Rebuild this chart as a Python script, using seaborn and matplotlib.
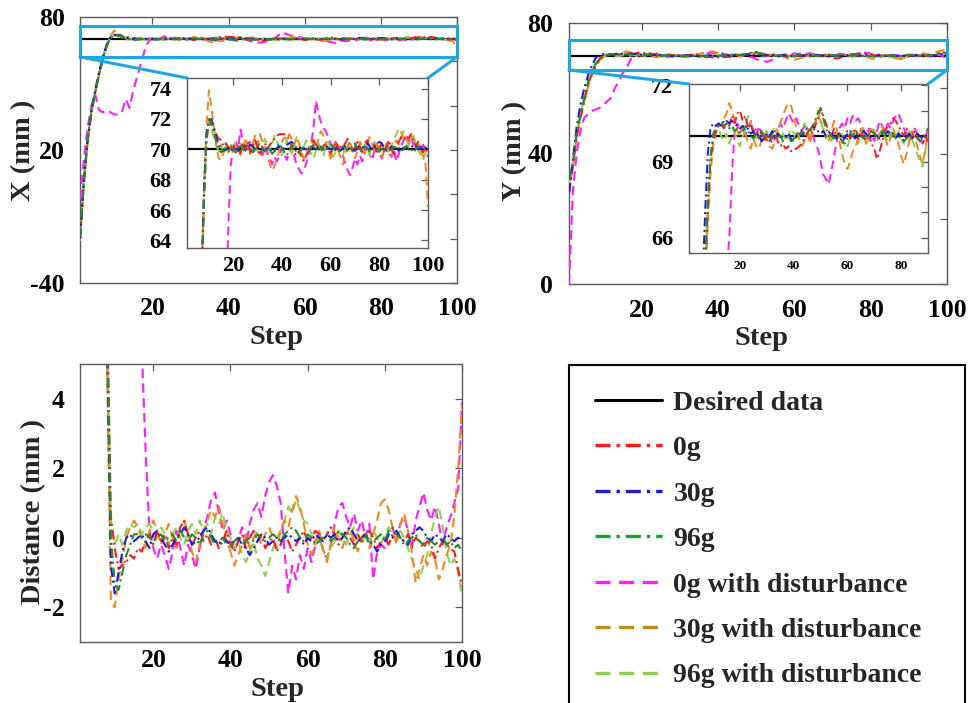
import numpy as np
import matplotlib
matplotlib.use("Agg")
import matplotlib.pyplot as plt
from matplotlib.patches import Rectangle, ConnectionPatch
from matplotlib.lines import Line2D
import seaborn as sns

# ---------------------------------------------------------------- data
steps = np.arange(1, 101)
desired = 70.0

series_names = ["0g", "30g", "96g", "0g with disturbance",
                "30g with disturbance", "96g with disturbance"]

# X position (mm)
x_0g = [-20, 5, 24, 37, 46, 54, 61, 66.5, 70.5, 72.0,
        71.6, 71.2, 71.0, 70.7, 70.6, 70.2, 70.4, 70.1, 69.9, 70.3,
        69.8, 70.2, 69.7, 70.4, 70.0, 70.5, 69.8, 70.3, 70.6, 70.1,
        69.6, 70.2, 70.4, 70.0, 70.3, 70.5, 70.7, 70.9, 71.0, 71.0,
        71.0, 70.9, 70.6, 70.2, 69.8, 69.6, 69.9, 69.5, 69.2, 69.6,
        69.9, 70.2, 70.6, 70.3, 70.1, 69.8, 70.2, 70.4, 70.0, 69.7,
        70.1, 70.5, 70.2, 69.8, 70.1, 70.4, 70.7, 70.3, 69.9, 70.1,
        70.5, 70.2, 69.8, 70.4, 70.6, 70.2, 70.0, 70.3, 69.7, 70.1,
        70.4, 69.8, 70.2, 70.6, 70.0, 69.7, 70.3, 70.5, 70.8, 70.6,
        70.9, 70.7, 71.0, 70.6, 70.2, 70.5, 70.1, 69.8, 70.2, 69.5]
x_30g = [-20, 6, 25, 38, 47, 55, 62, 67.5, 71.0, 71.8,
         72.0, 71.5, 70.8, 70.3, 70.0, 69.9, 70.0, 70.1, 69.9, 70.0,
         70.1, 69.9, 70.2, 70.3, 70.2, 70.1, 70.3, 70.2, 70.0, 70.1,
         70.2, 70.0, 69.9, 70.1, 70.0, 69.8, 69.9, 70.1, 70.2, 70.0,
         70.1, 70.3, 70.4, 70.5, 70.3, 70.1, 70.2, 70.0, 70.1, 69.9,
         70.0, 70.2, 70.1, 70.0, 70.2, 70.1, 70.0, 70.2, 70.1, 70.0,
         70.1, 70.2, 70.0, 69.9, 70.1, 70.2, 70.0, 70.1, 70.0, 69.9,
         70.1, 70.2, 70.1, 70.3, 70.4, 70.2, 70.0, 70.1, 70.3, 70.5,
         70.4, 70.1, 69.9, 70.0, 70.2, 70.0, 70.1, 69.9, 70.0, 70.1,
         70.2, 70.0, 70.1, 70.3, 70.2, 70.0, 70.1, 70.2, 70.1, 70.0]
x_96g = [-19, 6, 25, 37, 46, 54, 61, 67, 70.5, 72.0,
         71.8, 71.2, 70.5, 70.0, 69.8, 70.0, 70.1, 69.9, 70.2, 70.0,
         69.8, 70.1, 70.3, 70.0, 69.9, 70.2, 70.1, 69.8, 70.0, 70.2,
         70.4, 70.1, 69.9, 70.2, 70.0, 69.7, 69.9, 70.2, 70.4, 70.1,
         69.8, 69.6, 69.9, 70.3, 70.1, 69.8, 69.7, 70.0, 70.2, 70.0,
         69.8, 70.1, 70.3, 70.1, 69.9, 70.2, 70.0, 69.9, 70.1, 70.3,
         70.2, 69.9, 69.8, 70.0, 70.2, 70.1, 69.9, 70.0, 70.2, 70.4,
         70.1, 69.8, 70.0, 70.2, 70.1, 69.9, 70.0, 70.2, 70.1, 69.9,
         70.0, 70.2, 70.1, 69.9, 70.0, 70.2, 70.0, 70.1, 69.9, 70.0,
         70.2, 70.1, 70.0, 69.8, 70.0, 70.2, 70.1, 70.0, 70.1, 70.2]
x_0g_dist = [-2, 15, 30, 40, 45, 38, 37, 38, 37, 36,
             36, 37, 43, 39, 47, 53, 59, 65, 69, 70.2,
             70.6, 70.0, 71.3, 70.5, 70.2, 69.8, 70.6, 70.1, 69.7, 70.3,
             70.0, 69.6, 70.2, 69.8, 69.4, 69.0, 69.5, 69.2, 69.6, 70.1,
             69.7, 69.3, 69.8, 70.2, 69.6, 69.0, 68.7, 68.4, 68.6, 69.1,
             69.7, 70.3, 71.5, 73.2, 72.4, 71.8, 71.4, 71.2, 70.8, 70.4,
             70.1, 70.5, 69.8, 70.2, 69.6, 69.1, 68.6, 68.3, 68.8, 69.4,
             69.0, 69.6, 69.2, 69.8, 70.3, 69.7, 69.3, 69.9, 70.4, 69.8,
             69.4, 69.9, 70.3, 69.7, 69.5, 70.0, 69.2, 69.7, 70.2, 70.6,
             70.9, 70.4, 70.8, 70.3, 70.6, 70.1, 69.8, 70.3, 70.0, 69.7]
x_30g_dist = [-21, 4, 23, 37, 46, 54, 61, 67, 71.5, 73.9,
              72.8, 71.5, 70.4, 69.4, 69.3, 69.8, 70.0, 69.7, 70.2, 69.8,
              70.4, 69.9, 70.5, 70.0, 70.6, 70.2, 69.7, 70.4, 70.9, 70.3,
              71.0, 70.5, 70.0, 69.6, 69.0, 68.6, 68.9, 69.4, 70.0, 70.5,
              70.8, 70.6, 71.0, 70.7, 70.2, 70.8, 70.4, 69.8, 69.3, 69.6,
              70.2, 70.6, 70.3, 70.0, 70.7, 71.2, 70.9, 70.5, 69.8, 69.4,
              69.9, 70.4, 70.0, 69.5, 69.0, 69.6, 70.2, 70.5, 69.9, 69.4,
              69.9, 70.5, 70.2, 69.7, 70.3, 70.8, 70.4, 69.9, 70.3, 70.0,
              69.5, 69.9, 70.4, 70.1, 69.6, 70.2, 70.6, 70.3, 70.8, 71.2,
              70.7, 70.4, 70.9, 70.5, 70.1, 70.4, 69.9, 69.6, 69.0, 66.2]
x_96g_dist = [-19, 6, 25, 38, 47, 55, 62, 67.5, 71.0, 71.9,
              71.4, 70.8, 70.2, 69.9, 70.3, 69.8, 70.2, 69.7, 70.3, 69.9,
              70.5, 70.0, 69.6, 70.2, 70.7, 70.3, 69.8, 70.1, 70.5, 69.9,
              69.5, 70.2, 70.7, 70.3, 69.8, 70.4, 70.9, 70.5, 70.0, 69.6,
              70.1, 70.6, 70.2, 69.7, 70.3, 70.8, 70.4, 69.9, 70.2, 70.6,
              70.1, 69.7, 69.4, 69.9, 70.4, 70.0, 69.6, 70.2, 70.5, 70.0,
              69.5, 69.8, 70.3, 69.9, 69.6, 70.1, 70.4, 70.0, 69.7, 70.2,
              70.6, 70.1, 69.8, 70.3, 70.0, 69.6, 70.1, 70.5, 70.2, 69.8,
              70.0, 70.4, 70.1, 69.7, 70.2, 70.6, 71.0, 71.4, 71.1, 70.8,
              70.5, 70.2, 70.6, 70.9, 70.4, 70.0, 69.6, 69.3, 69.8, 70.3]

# Y position (mm)
y_0g = [28, 36, 45, 51, 56, 61, 64.5, 67, 69, 69.8,
        70.2, 70.4, 70.5, 70.3, 70.6, 70.4, 70.8, 70.5, 70.9, 71.0,
        70.6, 70.8, 70.3, 70.5, 70.1, 70.3, 69.9, 70.2, 70.0, 69.8,
        70.1, 69.9, 70.2, 69.8, 69.6, 69.7, 69.5, 69.6, 69.4, 69.5,
        69.5, 69.6, 69.7, 69.9, 70.1, 70.3, 70.1, 70.4, 70.7, 71.1,
        70.8, 70.5, 70.2, 70.0, 70.3, 69.9, 70.1, 69.7, 70.0, 70.2,
        69.9, 70.1, 70.3, 69.9, 70.2, 70.0, 69.8, 70.1, 69.7, 69.5,
        69.1, 69.4, 69.8, 70.2, 70.4, 70.5, 70.7, 70.6, 70.4, 70.2,
        70.0, 70.3, 70.1, 69.9, 70.2, 70.0, 69.8, 69.7, 70.0, 69.8,
        70.1, 70.3, 70.0, 69.7, 70.1, 69.9, 70.3, 70.6, 71.2, 70.3]
y_30g = [28, 38, 48, 55, 60, 64, 67, 69.3, 70.3, 70.5,
         70.4, 70.5, 70.4, 70.6, 70.6, 70.5, 70.6, 70.5, 70.4, 70.3,
         70.4, 70.2, 70.3, 70.1, 70.2, 70.0, 70.1, 69.8, 69.9, 70.1,
         70.0, 70.2, 69.9, 70.1, 70.0, 69.9, 70.0, 70.1, 69.9, 69.8,
         70.0, 70.1, 70.0, 70.2, 70.3, 70.2, 70.4, 70.3, 70.2, 70.1,
         70.2, 70.0, 70.1, 70.2, 70.0, 69.9, 70.1, 70.0, 69.9, 70.1,
         70.2, 70.0, 69.9, 70.1, 70.0, 70.2, 70.1, 69.9, 70.0, 70.1,
         70.0, 69.9, 70.1, 70.0, 70.2, 70.1, 70.0, 69.9, 70.1, 70.0,
         69.8, 70.0, 70.1, 69.9, 70.0, 70.1, 70.0, 69.9, 70.0, 70.1,
         70.0, 70.1, 70.0, 70.2, 70.1, 70.0, 70.1, 70.3, 70.6, 70.2]
y_96g = [32, 37, 46, 52, 57, 62, 65, 67.5, 69.2, 70.1,
         70.3, 70.4, 70.5, 70.4, 70.5, 70.3, 70.4, 70.2, 70.3, 70.1,
         70.2, 70.4, 70.2, 70.0, 69.9, 70.1, 70.0, 70.2, 69.9, 70.0,
         69.8, 70.0, 70.1, 69.9, 70.0, 69.8, 69.9, 70.0, 69.8, 69.9,
         70.1, 70.0, 70.2, 70.1, 70.3, 70.2, 70.4, 70.6, 70.9, 71.1,
         70.7, 70.3, 70.1, 70.0, 69.9, 70.1, 70.0, 69.8, 69.7, 69.9,
         70.1, 70.0, 70.2, 70.1, 70.0, 69.9, 70.1, 70.0, 70.2, 70.1,
         69.9, 70.0, 70.2, 70.1, 70.0, 70.2, 70.1, 69.9, 70.0, 69.9,
         69.8, 69.9, 70.0, 70.1, 70.0, 69.9, 69.8, 69.9, 70.1, 70.3,
         70.2, 70.1, 70.0, 69.8, 70.0, 70.2, 70.4, 70.7, 71.0, 70.5]
y_0g_dist = [0, 28, 40, 47, 51, 52, 53, 53.5, 54, 55,
             56, 57, 60, 62, 64.5, 66, 68.5, 70.2, 70.5, 70.1,
             70.4, 70.0, 70.3, 70.6, 70.2, 69.9, 70.4, 70.1, 69.8, 70.2,
             70.0, 69.7, 69.9, 70.2, 70.5, 70.3, 70.6, 70.9, 70.7, 70.5,
             70.7, 70.4, 70.2, 70.4, 70.2, 69.9, 70.1, 69.7, 69.5, 69.0,
             68.5, 68.3, 68.1, 68.6, 69.2, 69.8, 70.3, 70.5, 70.3, 70.7,
             70.5, 70.8, 70.6, 70.7, 70.5, 70.2, 70.0, 70.3, 70.1, 69.8,
             70.2, 70.6, 70.4, 70.2, 70.5, 70.3, 70.6, 70.8, 70.9, 70.6,
             70.3, 70.1, 69.8, 70.0, 70.3, 70.1, 69.9, 69.7, 70.0, 70.2,
             70.0, 69.8, 70.0, 70.2, 69.9, 69.7, 70.0, 70.2, 69.9, 68.2]
y_30g_dist = [28, 36, 45, 51, 56, 60.5, 64, 66.5, 68.5, 69.6,
              70.2, 70.5, 70.4, 70.7, 70.9, 71.3, 71.0, 70.6, 70.2, 70.0,
              70.4, 70.1, 69.7, 69.5, 69.9, 69.6, 69.5, 69.8, 70.1, 69.9,
              69.6, 69.5, 69.8, 70.2, 70.5, 70.8, 71.1, 71.3, 71.2, 70.8,
              70.3, 69.9, 69.6, 69.8, 70.1, 69.7, 70.2, 70.5, 70.8, 70.6,
              70.3, 70.0, 69.8, 70.2, 70.6, 70.3, 69.8, 69.3, 68.9, 68.7,
              69.0, 69.4, 69.6, 69.9, 70.3, 70.1, 69.7, 70.0, 70.4, 70.2,
              69.8, 70.1, 70.4, 70.0, 69.6, 69.9, 70.3, 70.0, 69.7, 69.2,
              68.9, 69.3, 69.8, 70.2, 70.0, 69.6, 69.2, 68.9, 69.5, 70.1,
              70.3, 70.0, 70.4, 70.7, 70.3, 70.6, 71.0, 71.4, 71.7, 71.2]
y_96g_dist = [30, 37, 46, 52, 57, 61.5, 65, 67.5, 69.0, 69.7,
              70.1, 70.3, 70.0, 69.8, 70.1, 69.7, 70.0, 70.2, 69.8, 69.6,
              70.0, 70.3, 70.8, 70.5, 70.2, 69.9, 70.1, 69.8, 70.0, 70.2,
              69.9, 70.1, 70.4, 70.2, 69.9, 70.1, 69.8, 70.0, 70.3, 70.1,
              69.8, 70.0, 70.2, 70.5, 70.3, 70.0, 70.2, 70.6, 71.0, 70.7,
              70.2, 69.9, 70.1, 69.8, 70.0, 70.2, 69.9, 70.1, 69.8, 69.6,
              69.9, 70.2, 70.0, 69.7, 70.0, 70.3, 70.1, 69.8, 70.0, 70.2,
              69.9, 70.1, 70.3, 70.0, 69.8, 70.1, 69.9, 70.0, 70.2, 69.9,
              69.7, 70.0, 70.2, 69.9, 69.6, 69.3, 69.0, 68.8, 69.4, 70.0,
              70.2, 69.9, 70.1, 70.4, 70.2, 70.0, 70.3, 70.6, 70.9, 70.4]

# Distance error (mm)
d_0g = [93, 70, 50, 38, 28, 19, 11, 7, 0.6, -0.3,
        -0.9, -0.8, -0.7, -0.5, -0.6, -0.3, -0.4, -0.1, 0.1, -0.2,
        0.2, -0.1, 0.1, -0.3, 0.0, -0.2, 0.3, 0.5, 0.1, -0.2,
        0.0, 0.2, -0.1, 0.1, -0.2, 0.0, -0.3, -0.1, 0.2, -0.2,
        -0.4, -0.1, 0.1, -0.3, 0.0, 0.2, -0.1, 0.1, -0.3, -0.1,
        0.0, -0.4, -0.2, 0.1, -0.1, -0.4, -0.2, 0.0, 0.2, -0.1,
        0.0, 0.2, 0.1, -0.1, 0.1, 0.3, 0.1, -0.2, 0.0, 0.2,
        0.0, -0.2, 0.1, -0.1, 0.0, 0.2, 0.0, -0.3, -0.1, 0.0,
        -0.2, 0.1, 0.2, 0.0, -0.1, 0.1, -0.2, 0.0, -0.1, -0.3,
        -0.1, -0.2, -0.6, -0.3, -0.1, -0.2, -0.3, -0.4, -0.9, -1.4]
d_30g = [92, 68, 47, 34, 24, 15, 8, 5.5, -0.8, -1.6,
         -1.0, -0.4, 0.0, 0.1, -0.1, 0.0, 0.1, -0.1, -0.3, 0.1,
         0.2, 0.0, -0.2, -0.4, -0.2, 0.0, 0.1, 0.3, 0.1, -0.2,
         -0.1, 0.0, 0.2, 0.3, 0.1, -0.1, -0.2, 0.0, -0.1, -0.2,
         -0.1, 0.0, -0.2, -0.3, -0.5, -0.3, -0.1, 0.1, 0.0, -0.2,
         -0.1, 0.0, -0.1, 0.0, 0.1, 0.0, -0.1, 0.0, -0.2, 0.0,
         -0.1, 0.1, 0.0, -0.1, 0.1, 0.0, 0.1, -0.1, 0.0, 0.2,
         0.3, 0.1, -0.1, 0.0, 0.1, -0.1, -0.2, -0.4, -0.2, -0.1,
         0.1, 0.0, 0.2, 0.0, -0.1, -0.2, 0.1, 0.2, 0.3, 0.2,
         0.0, -0.1, 0.1, 0.0, -0.1, 0.1, 0.0, -0.1, 0.0, -0.1]
d_96g = [92, 69, 48, 36, 26, 17, 9, 6, 0.0, -1.3,
         -1.5, -1.0, -0.5, -0.2, 0.1, 0.1, 0.0, 0.1, 0.0, -0.1,
         0.0, 0.1, -0.1, 0.0, 0.1, -0.1, 0.2, 0.0, -0.1, 0.1,
         0.0, -0.2, 0.1, 0.2, 0.0, -0.2, -0.1, 0.0, -0.2, -0.3,
         -0.1, 0.0, -0.2, -0.1, 0.0, -0.1, 0.1, 0.0, -0.1, 0.0,
         0.1, 0.0, -0.1, 0.1, 0.2, 0.3, 0.2, 0.0, -0.1, 0.1,
         0.0, -0.2, -0.1, 0.0, 0.1, -0.1, 0.0, 0.2, 0.1, 0.0,
         -0.2, -0.3, -0.1, 0.0, 0.1, -0.2, -0.1, 0.0, 0.1, -0.1,
         0.2, 0.3, 0.1, 0.0, -0.2, -0.1, 0.0, 0.1, -0.1, -0.2,
         0.0, -0.1, -0.2, -0.1, 0.0, -0.2, -0.1, -0.3, -0.2, -0.4]
d_0g_dist = [98, 75, 55, 42, 34, 33, 32, 31, 30, 29,
             27, 24, 20, 16, 12, 8, 5.5, 2.5, 0.2, -0.3,
             -0.6, -0.2, -0.5, -0.9, -0.4, 0.2, -0.3, -0.8, -0.2, -0.5,
             -0.9, -0.3, 0.2, 0.6, 1.1, 1.3, 0.7, 0.2, 0.5, 0.1,
             -0.4, -0.1, 0.3, -0.2, 0.4, 0.8, 1.0, 0.6, 1.2, 1.6,
             1.8, 1.5, 1.0, -0.4, -1.6, -0.8, -1.2, -0.5, -0.9, -0.3,
             -0.7, -0.2, 0.1, -0.4, -0.6, -0.2, 0.4, 0.9, 1.0, 0.6,
             0.3, 0.7, 0.2, 0.5, 0.0, 0.4, -1.2, -0.4, -0.2, -0.3,
             0.1, 0.3, -0.1, 0.4, 0.6, 0.2, -0.3, 0.5, 0.9, 1.3,
             0.8, 0.5, 0.9, 0.4, -0.2, 0.3, 0.6, 1.0, 1.4, 3.9]
d_30g_dist = [94, 71, 51, 39, 29, 20, 12, 5, -1.8, -2.0,
              -1.2, -0.6, 0.0, 0.3, 0.5, 0.3, 0.0, -0.3, 0.2, 0.5,
              0.2, -0.2, 0.1, 0.4, 0.0, -0.3, 0.3, 0.5, 0.1, -0.4,
              -0.7, -0.2, 0.2, 0.5, 0.8, 0.6, 0.9, 0.4, -0.1, -0.4,
              -0.8, -0.5, -0.2, 0.1, -0.3, 0.0, 0.2, -0.2, 0.1, 0.3,
              0.0, -0.3, 0.2, 0.5, 0.3, 0.8, 1.2, 0.9, 0.4, -0.2,
              -0.5, -0.1, 0.2, -0.3, -0.7, -0.2, 0.3, 0.0, -0.3, 0.1,
              0.3, -0.1, -0.4, 0.0, 0.2, -0.3, 0.1, 0.5, 1.0, 1.1,
              0.8, 0.3, -0.2, 0.4, 0.7, 0.2, -0.4, -1.3, -0.9, -0.5,
              -0.8, -0.4, -0.6, -1.2, -0.9, -0.5, -0.2, 0.6, 2.0, 3.8]
d_96g_dist = [93, 69, 48, 35, 25, 16, 8, 6, 0.5, -0.2,
              0.1, -0.2, 0.2, 0.4, 0.3, 0.4, 0.1, 0.3, 0.4, 0.2,
              0.0, 0.3, 0.1, -0.2, 0.1, 0.3, 0.0, -0.2, 0.2, 0.4,
              0.1, 0.5, 0.2, 0.4, 0.1, 0.6, 0.4, 0.7, 0.2, 0.0,
              -0.3, -0.1, -0.5, -0.7, -0.4, -0.1, -0.6, -0.8, -1.1, -0.7,
              -0.3, 0.0, 0.2, 0.5, 0.9, 0.7, 1.1, 0.8, 0.5, 0.4,
              0.1, -0.2, 0.0, -0.4, -0.6, -0.3, -0.1, 0.2, 0.0, -0.2,
              0.1, 0.3, 0.0, -0.2, 0.1, -0.1, 0.2, 0.0, -0.2, 0.1,
              0.3, 0.1, -0.1, 0.2, 0.0, -0.3, -0.6, -0.9, -1.2, -0.8,
              -0.5, 0.1, 0.6, 0.9, 0.3, -0.4, -0.8, -0.6, -1.0, -1.7]

x_series = [x_0g, x_30g, x_96g, x_0g_dist, x_30g_dist, x_96g_dist]
y_series = [y_0g, y_30g, y_96g, y_0g_dist, y_30g_dist, y_96g_dist]
d_series = [d_0g, d_30g, d_96g, d_0g_dist, d_30g_dist, d_96g_dist]

# ---------------------------------------------------------------- style
line_colors = ["#ff1a1a", "#1a1ae6", "#1e8f2a", "#ff1aff", "#f5871f", "#8fd14f"]
legend_colors = ["#ff1a1a", "#1a1ad9", "#14a03c", "#ff1aff", "#bf8a1a", "#8fd14f"]
DASHDOT = (0, (4.5, 1.8, 1, 1.8))
DASHED = (0, (4.5, 2.6))
line_styles = [DASHDOT, DASHDOT, DASHDOT, DASHED, DASHED, DASHED]
draw_order = [3, 5, 4, 0, 1, 2]
FRAME = "#5a5a5a"
ZOOM_BLUE = "#1ea6e0"

sns.set_theme(style="white")
plt.rcParams["font.family"] = ["Liberation Serif", "DejaVu Serif"]
plt.rcParams["font.weight"] = "bold"
plt.rcParams["axes.unicode_minus"] = False

FIG_W, FIG_H = 976, 703
fig = plt.figure(figsize=(FIG_W / 100, FIG_H / 100), dpi=100)
fig.patch.set_facecolor("white")


def box(l, t, r, b):
    return [l / FIG_W, 1 - b / FIG_H, (r - l) / FIG_W, (b - t) / FIG_H]


def style_axes(ax, ysize, xsize, ypad, xpad):
    for s in ax.spines.values():
        s.set_color(FRAME)
        s.set_linewidth(1.0)
        s.set_visible(True)
    ax.tick_params(axis="both", direction="in", top=True, right=True,
                   length=5, width=0.9, color=FRAME, labelcolor="black")
    ax.tick_params(axis="y", labelsize=ysize, pad=ypad)
    ax.tick_params(axis="x", labelsize=xsize, pad=xpad)
    for lab in ax.get_xticklabels() + ax.get_yticklabels():
        lab.set_fontweight("bold")
    ax.set_facecolor("white")
    ax.grid(False)


def draw_lines(ax, series, with_desired=True, lw=1.5):
    if with_desired:
        sns.lineplot(x=steps, y=np.full(len(steps), desired), ax=ax,
                     color="black", lw=1.6, estimator=None, errorbar=None,
                     sort=False, legend=False, zorder=2)
    for k in draw_order:
        sns.lineplot(x=steps, y=np.asarray(series[k], dtype=float), ax=ax,
                     color=line_colors[k], lw=lw, ls=line_styles[k],
                     estimator=None, errorbar=None, sort=False,
                     legend=False, zorder=3)
    ax.set_xlabel("")
    ax.set_ylabel("")


LABEL_FONT = dict(fontsize=20.5, fontweight="bold")
TICK = 18.5

# ---------------------------------------------------------------- X panel
ax_x = fig.add_axes(box(80, 17, 457, 283))
draw_lines(ax_x, x_series)
ax_x.set_xlim(1, 100)
ax_x.set_ylim(-40, 80)
ax_x.set_xticks([20, 40, 60, 80, 100])
ax_x.set_xticklabels(["20", "40", "60", "80", "100"])
ax_x.set_yticks([-40, -20, 0, 20, 40, 60, 80])
ax_x.set_yticklabels(["-40", "", "", "20", "", "", "80"])
style_axes(ax_x, TICK, TICK, 11, 10)
ax_x.set_ylabel("X (mm )", **LABEL_FONT)
ax_x.yaxis.set_label_coords(-0.117, 0.5)
ax_x.set_xlabel("Step", **LABEL_FONT)
ax_x.xaxis.set_label_coords(0.52, -0.157)
ax_x.add_patch(Rectangle((1, 62), 99, 14, fill=False, edgecolor=ZOOM_BLUE,
                         lw=2.2, clip_on=False, zorder=6))

ax_xi = fig.add_axes(box(187, 78, 428, 248))
draw_lines(ax_xi, x_series, lw=1.4)
ax_xi.set_xlim(1, 100)
ax_xi.set_ylim(63.5, 74.7)
ax_xi.set_xticks([20, 40, 60, 80, 100])
ax_xi.set_xticklabels(["20", "40", "60", "80", "100"])
ax_xi.set_yticks([64, 66, 68, 70, 72, 74])
ax_xi.set_yticklabels(["64", "66", "68", "70", "72", "74"])
style_axes(ax_xi, 16, 16, 11, 6)

for xa, xb in [(1, 0), (100, 1)]:
    fig.add_artist(ConnectionPatch(xyA=(xa, 62), coordsA=ax_x.transData,
                                   xyB=(xb, 1), coordsB=ax_xi.transAxes,
                                   color=ZOOM_BLUE, lw=2.2, zorder=7))

# ---------------------------------------------------------------- Y panel
ax_y = fig.add_axes(box(569, 23, 947, 284))
draw_lines(ax_y, y_series)
ax_y.set_xlim(1, 100)
ax_y.set_ylim(0, 80)
ax_y.set_xticks([20, 40, 60, 80, 100])
ax_y.set_xticklabels(["20", "40", "60", "80", "100"])
ax_y.set_yticks([0, 20, 40, 60, 80])
ax_y.set_yticklabels(["0", "", "40", "", "80"])
style_axes(ax_y, TICK, TICK, 11.5, 10.5)
ax_y.set_ylabel("Y (mm )", **LABEL_FONT)
ax_y.yaxis.set_label_coords(-0.111, 0.51)
ax_y.set_xlabel("Step", **LABEL_FONT)
ax_y.xaxis.set_label_coords(0.508, -0.162)
ax_y.add_patch(Rectangle((1, 65.6), 99, 9.2, fill=False, edgecolor=ZOOM_BLUE,
                         lw=2.2, clip_on=False, zorder=6))

ax_yi = fig.add_axes(box(689, 84, 928, 253))
draw_lines(ax_yi, y_series, lw=1.4)
ax_yi.set_xlim(1, 90)
ax_yi.set_ylim(65.4, 72.05)
ax_yi.set_xticks([20, 40, 60, 80])
ax_yi.set_xticklabels(["20", "40", "60", "80"])
ax_yi.set_yticks([66, 67, 68, 69, 70, 71, 72])
ax_yi.set_yticklabels(["66", "", "", "69", "", "", "72"])
style_axes(ax_yi, 16, 9.5, 11.5, 5)

for xa, xb in [(1, 0), (100, 1)]:
    fig.add_artist(ConnectionPatch(xyA=(xa, 65.6), coordsA=ax_y.transData,
                                   xyB=(xb, 1), coordsB=ax_yi.transAxes,
                                   color=ZOOM_BLUE, lw=2.2, zorder=7))

# ---------------------------------------------------------------- distance panel
ax_d = fig.add_axes(box(80, 364, 462, 642))
draw_lines(ax_d, d_series, with_desired=False)
ax_d.set_xlim(1, 100)
ax_d.set_ylim(-3, 5)
ax_d.set_xticks([20, 40, 60, 80, 100])
ax_d.set_xticklabels(["20", "40", "60", "80", "100"])
ax_d.set_yticks([-2, 0, 2, 4])
ax_d.set_yticklabels(["-2", "0", "2", "4"])
style_axes(ax_d, TICK, TICK, 11, 5)
ax_d.set_ylabel("Distance (mm )", **LABEL_FONT)
ax_d.yaxis.set_label_coords(-0.089, 0.47)
ax_d.set_xlabel("Step", **LABEL_FONT)
ax_d.xaxis.set_label_coords(0.516, -0.126)

# ---------------------------------------------------------------- legend box
ax_leg = fig.add_axes(box(569, 365, 965, 712))
ax_leg.set_xticks([])
ax_leg.set_yticks([])
ax_leg.set_facecolor("white")
for name, s in ax_leg.spines.items():
    s.set_color("black")
    s.set_linewidth(1.5)
    s.set_visible(name != "bottom")

handles = [Line2D([], [], color="black", lw=2.2)]
for c, ls in zip(legend_colors, line_styles):
    handles.append(Line2D([], [], color=c, lw=2.4, ls=ls))
labels = ["Desired data"] + series_names
ax_leg.legend(handles, labels, loc="upper left", bbox_to_anchor=(0.066, 0.927),
              frameon=False, borderpad=0, borderaxespad=0,
              handlelength=2.4, handletextpad=0.42, labelspacing=0.72,
              prop=dict(family=["Liberation Serif", "DejaVu Serif"],
                        weight="bold", size=20))

fig.savefig("out.png", dpi=100, facecolor="white")
